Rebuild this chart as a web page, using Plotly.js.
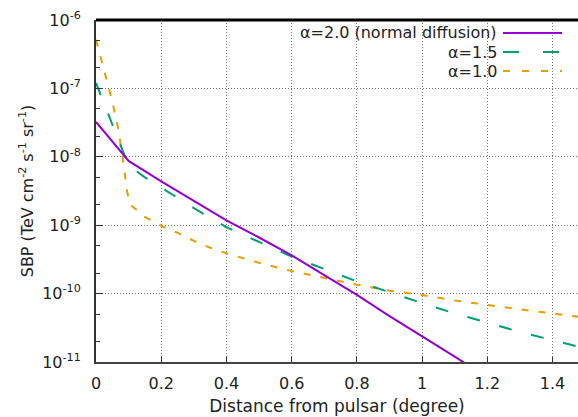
<!DOCTYPE html>
<html>
<head>
<meta charset="utf-8">
<script src="https://cdn.plot.ly/plotly-3.0.1.min.js"></script>
<style>
html,body{margin:0;padding:0;background:#fff;}
#chart{width:578px;height:417px;}
</style>
</head>
<body>
<div id="chart"></div>
<script>
// Distance from pulsar (degree)
const xAlpha20 = [0, 0.1, 0.2, 0.3, 0.4, 0.5, 0.6, 0.7, 0.8, 0.9, 1.0, 1.1, 1.2];
const yAlpha20 = [3.24e-8, 8.71e-9, 4.37e-9, 2.24e-9, 1.175e-9, 6.61e-10, 3.63e-10, 1.86e-10, 9.55e-11, 4.68e-11, 2.40e-11, 1.20e-11, 5.89e-12];

const xAlpha15 = [0, 0.1, 0.15, 0.2, 0.3, 0.4, 0.5, 0.6, 0.7, 0.8, 0.9, 1.0, 1.1, 1.2, 1.3, 1.4, 1.5];
const yAlpha15 = [1.20e-7, 7.41e-9, 5.01e-9, 3.55e-9, 1.78e-9, 9.33e-10, 5.62e-10, 3.47e-10, 2.29e-10, 1.51e-10, 1.05e-10, 7.24e-11, 5.13e-11, 3.72e-11, 2.75e-11, 2.09e-11, 1.58e-11];

const xAlpha10 = [0, 0.03, 0.05, 0.067, 0.083, 0.095, 0.105, 0.15, 0.2, 0.25, 0.3, 0.35, 0.4, 0.5, 0.6, 0.7, 0.8, 0.9, 1.0, 1.1, 1.2, 1.3, 1.4, 1.5];
const yAlpha10 = [5.13e-7, 1.41e-7, 6.46e-8, 2.75e-8, 8.91e-9, 3.16e-9, 2.00e-9, 1.32e-9, 9.77e-10, 7.76e-10, 5.89e-10, 4.68e-10, 3.89e-10, 2.82e-10, 2.14e-10, 1.70e-10, 1.35e-10, 1.10e-10, 9.55e-11, 7.94e-11, 6.76e-11, 5.89e-11, 5.13e-11, 4.47e-11];

const seriesNames = ["α=2.0 (normal diffusion)", "α=1.5", "α=1.0"];
const xTickVals = [0, 0.2, 0.4, 0.6, 0.8, 1, 1.2, 1.4];
const xTickText = ["0", "0.2", "0.4", "0.6", "0.8", "1", "1.2", "1.4"];
const yTickVals = [1e-11, 1e-10, 1e-9, 1e-8, 1e-7, 1e-6];
const yTickText = ["10<sup>-11</sup>", "10<sup>-10</sup>", "10<sup>-9</sup>", "10<sup>-8</sup>", "10<sup>-7</sup>", "10<sup>-6</sup>"];

const colors = ["#9400d3", "#009e73", "#e69f00"];
const FONT = "DejaVu Sans, Liberation Sans, sans-serif";

const traces = [
  {x: xAlpha10, y: yAlpha10, name: seriesNames[2], mode: "lines",
   line: {color: colors[2], width: 2, dash: "7px,10px"}},
  {x: xAlpha15, y: yAlpha15, name: seriesNames[1], mode: "lines",
   line: {color: colors[1], width: 2, dash: "13px,20px"}},
  {x: xAlpha20, y: yAlpha20, name: seriesNames[0], mode: "lines",
   line: {color: colors[0], width: 2}}
];

const L = 96, R = 578, T = 20, B = 362;
const px = v => (v - L) / (R - L);
const py = v => (B - v) / (B - T);

const legendRows = [33, 52, 71];
const annotations = seriesNames.map((n, i) => ({
  xref: "paper", yref: "paper", x: px(499), y: py(legendRows[i]),
  xanchor: "right", yanchor: "middle", showarrow: false,
  text: n, font: {family: FONT, size: 16, color: "#222"}
}));
const legendDash = ["solid", "16px,24px", "7px,12px"];
const shapes = seriesNames.map((n, i) => ({
  type: "line", xref: "paper", yref: "paper",
  x0: px(503), x1: px(562), y0: py(legendRows[i]), y1: py(legendRows[i]),
  line: {color: colors[i], width: 2, dash: legendDash[i]}
}));
shapes.push({type: "line", xref: "paper", yref: "paper", x0: 0, x1: 1, y0: 1, y1: 1,
  line: {color: "#000", width: 3}});

const layout = {
  width: 578, height: 417,
  margin: {l: L, r: 578 - R, t: T, b: 417 - B, pad: 0},
  paper_bgcolor: "#fff", plot_bgcolor: "#fff",
  showlegend: false,
  font: {family: FONT, size: 16, color: "#222"},
  xaxis: {
    range: [0, 1.478], tickvals: xTickVals, ticktext: xTickText,
    ticks: "inside", ticklen: 5, tickcolor: "#333", tickwidth: 1,
    showline: true, linecolor: "#444", linewidth: 2,
    showgrid: true, gridcolor: "#777", gridwidth: 1, griddash: "1px,2px",
    zeroline: false, ticklabelstandoff: 6,
    tickfont: {family: FONT, size: 16, color: "#222"},
    title: {text: "Distance from pulsar (degree)", font: {family: FONT, size: 17, color: "#222"}, standoff: 8}
  },
  yaxis: {
    type: "log", range: [-11, -6], tickvals: yTickVals, ticktext: yTickText,
    ticks: "inside", ticklen: 7, tickcolor: "#333", tickwidth: 1,
    minor: {ticks: "inside", ticklen: 4, tickcolor: "#333", showgrid: false},
    showline: true, linecolor: "#333", linewidth: 2,
    showgrid: true, gridcolor: "#777", gridwidth: 1, griddash: "1px,2px",
    zeroline: false, ticklabelstandoff: 10,
    tickfont: {family: FONT, size: 16, color: "#222"},
    title: {text: "SBP (TeV cm<sup>-2</sup> s<sup>-1</sup> sr<sup>-1</sup>)", font: {family: FONT, size: 16, color: "#222"}, standoff: 5}
  },
  annotations: annotations,
  shapes: shapes
};

Plotly.newPlot("chart", traces, layout, {displayModeBar: false});
</script>
</body>
</html>
